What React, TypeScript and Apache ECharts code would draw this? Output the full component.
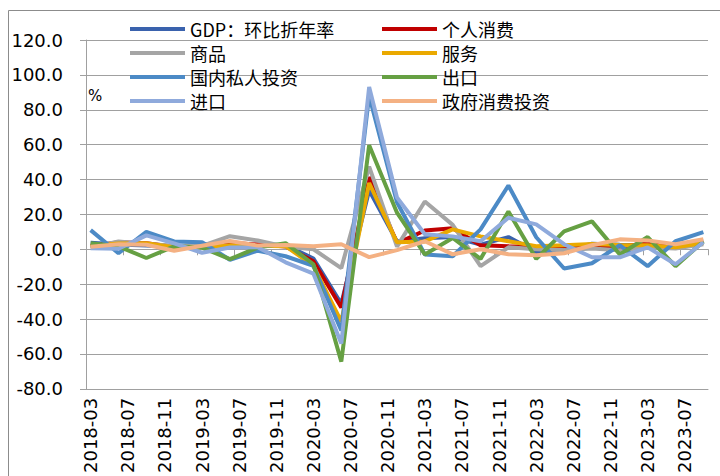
import React, { useEffect, useRef } from "react";
import * as echarts from "echarts";

// Axis categories: monthly, 2018-03 … 2023-09
const months: string[] = [];
for (let y = 2018; y <= 2023; y++) {
  for (let m = 1; m <= 12; m++) {
    const s = `${y}-${String(m).padStart(2, "0")}`;
    if (s >= "2018-03" && s <= "2023-09") months.push(s);
  }
}

// Data dates (quarter-end months)
const quarters = [
  "2018-03", "2018-06", "2018-09", "2018-12",
  "2019-03", "2019-06", "2019-09", "2019-12",
  "2020-03", "2020-06", "2020-09", "2020-12",
  "2021-03", "2021-06", "2021-09", "2021-12",
  "2022-03", "2022-06", "2022-09", "2022-12",
  "2023-03", "2023-06", "2023-09",
];

const gdp = [3.8, 2.7, 2.1, 1.3, 2.9, 1.5, 2.6, 2.4, -5.3, -31.2, 33.8, 4.5, 6.3, 7.0, 2.7, 7.0, -1.6, -0.6, 3.2, 2.6, 2.2, 2.1, 4.9];
const pce = [1.7, 4.0, 3.5, 1.4, 1.8, 3.7, 2.7, 1.6, -6.9, -33.4, 41.4, 3.4, 10.8, 12.0, 2.3, 1.7, 1.3, 2.0, 1.6, 1.2, 3.8, 0.8, 4.0];
const goods = [1.0, 4.5, 3.0, 2.0, 2.0, 7.5, 5.0, 1.5, 0.0, -10.8, 47.4, 1.5, 27.4, 14.0, -9.7, 1.1, 0.0, -0.5, 0.5, -0.5, 1.0, 0.5, 2.9];
const services = [2.0, 3.3, 3.5, 1.2, 1.2, 2.3, 2.0, 1.8, -9.5, -41.5, 38.0, 4.0, 4.5, 11.4, 7.4, 4.6, 1.8, 2.3, 3.0, 2.5, 2.3, 1.2, 3.6];
const investment = [11.0, -2.3, 10.0, 4.5, 4.0, -6.0, -0.8, -4.0, -9.5, -46.6, 88.0, 27.0, -3.0, -4.0, 11.4, 36.6, 6.9, -11.0, -8.0, 2.3, -9.7, 4.6, 9.8];
const exportsData = [3.5, 1.7, -5.0, 1.7, 1.0, -5.7, 1.0, 3.5, -8.6, -64.4, 59.6, 21.0, -3.0, 6.5, -5.5, 21.7, -5.5, 10.3, 16.0, -3.0, 7.0, -9.7, 4.5];
const imports = [0.6, 0.3, 8.0, 3.4, -2.0, 1.0, 1.2, -7.5, -14.0, -54.0, 93.0, 29.7, 8.6, 7.4, 4.6, 18.1, 14.3, 2.9, -4.6, -4.6, 1.1, -8.6, 4.0];
const government = [1.5, 2.9, 2.6, -0.8, 2.0, 4.8, 2.1, 2.4, 1.7, 2.9, -4.5, -0.5, 4.6, -2.9, 0.0, -2.9, -3.4, -2.3, 2.3, 5.7, 5.1, 2.9, 5.7];

const seriesDefs = [
  { name: "GDP：环比折年率", values: gdp, color: "#3A62AD" },
  { name: "个人消费", values: pce, color: "#C00000" },
  { name: "商品", values: goods, color: "#A5A5A5" },
  { name: "服务", values: services, color: "#EAA900" },
  { name: "国内私人投资", values: investment, color: "#4C8AC6" },
  { name: "出口", values: exportsData, color: "#66A043" },
  { name: "进口", values: imports, color: "#8FAADC" },
  { name: "政府消费投资", values: government, color: "#F4B183" },
];

const legendLeft = ["GDP：环比折年率", "商品", "国内私人投资", "进口"];
const legendRight = ["个人消费", "服务", "出口", "政府消费投资"];

const GRID = "#A0A0A0";

export default function App() {
  const ref = useRef<HTMLDivElement>(null);
  useEffect(() => {
    if (!ref.current) return;
    const chart = echarts.init(ref.current, undefined, { renderer: "svg" });
    const legendCommon = {
      orient: "vertical" as const,
      top: 20,
      padding: 0,
      itemWidth: 55,
      itemHeight: 4,
      itemGap: 6,
      icon: "rect",
      selectedMode: false,
      textStyle: {
        fontFamily: "Noto Sans CJK SC",
        fontSize: 18,
        color: "#000",
        lineHeight: 18,
      },
    };
    chart.setOption({
      animation: false,
      backgroundColor: "#fff",
      grid: { left: 86, right: 12, top: 40, bottom: 86 },
      legend: [
        { ...legendCommon, left: 130, data: legendLeft },
        { ...legendCommon, left: 382, data: legendRight },
      ],
      xAxis: [
        {
          type: "category",
          data: months,
          boundaryGap: true,
          position: "bottom",
          axisLine: { show: true, onZero: false, lineStyle: { color: GRID } },
          axisTick: { show: false },
          axisLabel: {
            interval: 3,
            rotate: 90,
            margin: 9,
            fontFamily: "DejaVu Sans",
            fontSize: 18,
            color: "#000",
          },
          splitLine: { show: false },
        },
        {
          type: "category",
          data: months,
          boundaryGap: true,
          position: "top",
          axisLine: {
            show: true,
            onZero: true,
            onZeroAxisIndex: 0,
            lineStyle: { color: GRID },
          },
          axisTick: {
            show: true,
            interval: 3,
            inside: true,
            length: 6,
            lineStyle: { color: GRID },
          },
          axisLabel: { show: false },
          splitLine: { show: false },
        },
      ],
      yAxis: {
        type: "value",
        min: -80,
        max: 120,
        interval: 20,
        axisLine: { show: true, lineStyle: { color: GRID } },
        axisTick: { show: true, length: 6, lineStyle: { color: GRID } },
        splitLine: { show: true, lineStyle: { color: GRID, width: 1 } },
        axisLabel: {
          margin: 23,
          fontFamily: "DejaVu Sans",
          fontSize: 18,
          color: "#000",
          formatter: (v: number) => v.toFixed(1),
        },
      },
      graphic: [
        {
          type: "rect",
          silent: true,
          shape: { x: 8.5, y: 10.5, width: 740, height: 500 },
          style: { fill: "none", stroke: "#8C8C8C", lineWidth: 1 },
          z: 0,
        },
        {
          type: "text",
          left: 88,
          top: 88,
          style: {
            text: "%",
            fontFamily: "DejaVu Sans",
            fontSize: 15,
            fill: "#000",
          },
        },
      ],
      series: seriesDefs.map((s) => ({
        name: s.name,
        type: "line",
        xAxisIndex: 0,
        data: quarters.map((q, i) => [q, s.values[i]]),
        showSymbol: false,
        symbol: "none",
        lineStyle: { width: 4, color: s.color },
        itemStyle: { color: s.color },
        color: s.color,
      })),
    });
    return () => chart.dispose();
  }, []);
  return (
    <div
      ref={ref}
      style={{ position: "absolute", left: 0, top: 0, width: 720, height: 476 }}
    />
  );
}
